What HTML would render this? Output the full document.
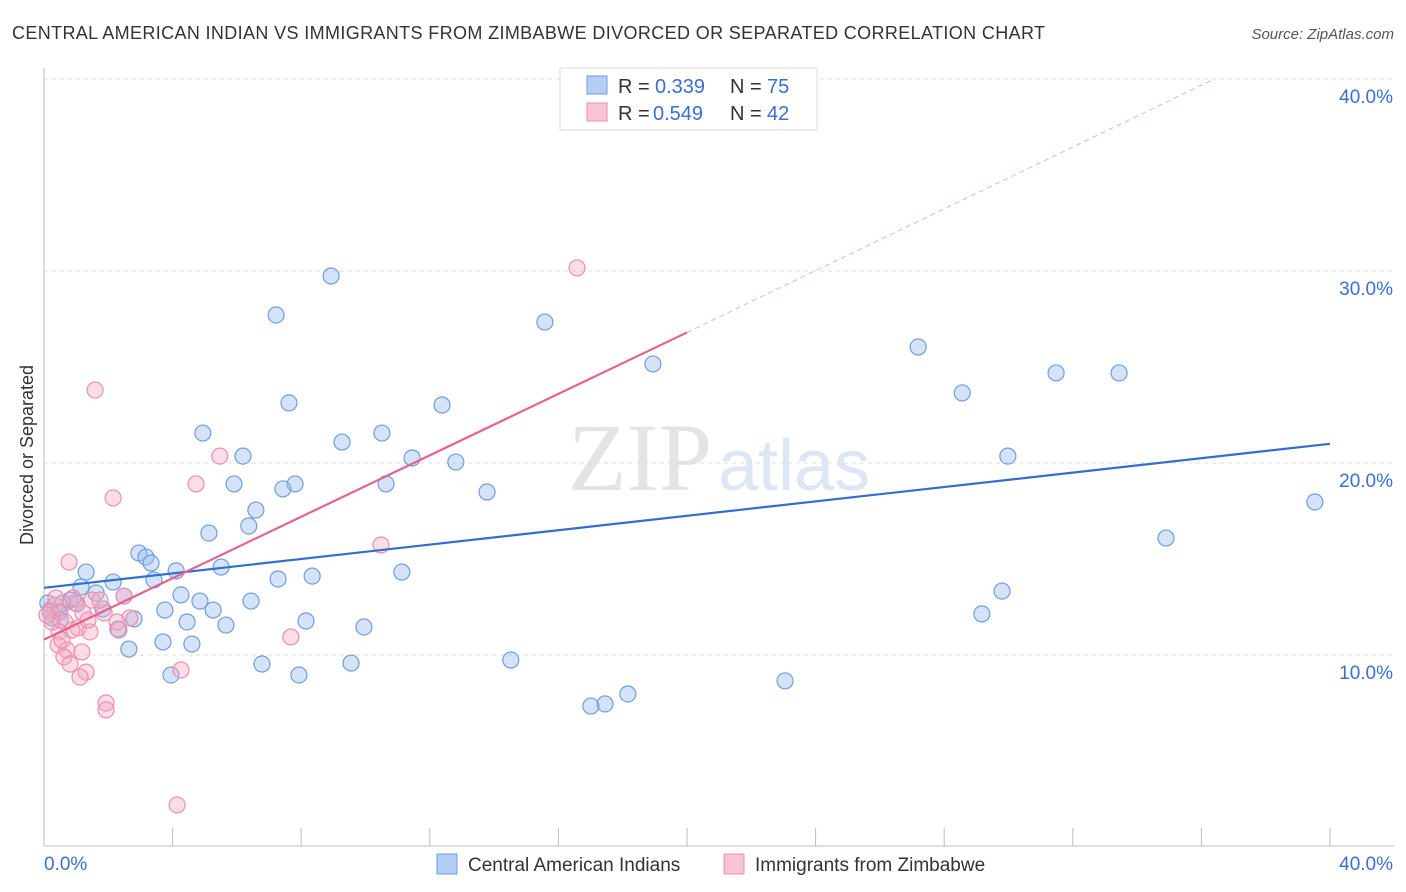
<!DOCTYPE html>
<html><head><meta charset="utf-8"><style>
body{margin:0;background:#fff;font-family:"Liberation Sans",sans-serif}
svg{display:block}
</style></head><body>
<svg width="1406" height="892">
<text x="12" y="39" font-size="18" textLength="1033" fill="#333">CENTRAL AMERICAN INDIAN VS IMMIGRANTS FROM ZIMBABWE DIVORCED OR SEPARATED CORRELATION CHART</text>
<text x="1394" y="39" font-size="15" fill="#555" text-anchor="end" font-style="italic">Source: ZipAtlas.com</text>
<text x="712" y="490" font-size="96" fill="#e4e4e4" font-family="Liberation Serif,serif" text-anchor="end">ZIP</text>
<text x="718" y="490" font-size="72" fill="#dce6f5">atlas</text>
<g id="grid"></g><g id="axes"></g><g id="pts"></g><g id="lines"></g>
<text x="33" y="455" font-size="18" fill="#333" text-anchor="middle" transform="rotate(-90 33 455)">Divorced or Separated</text>
<g>
<rect x="560" y="68" width="257" height="62" fill="#fff" stroke="#ddd"/>
<rect x="587" y="76" width="20" height="18" fill="#b3cdf4" stroke="#6f9de0"/>
<rect x="587" y="103" width="20" height="18" fill="#f9c5d3" stroke="#ec8fab"/>
<text x="618" y="93" font-size="20" fill="#333">R =</text><text x="655" y="93" font-size="20" fill="#3a6fd0">0.339</text>
<text x="730" y="93" font-size="20" fill="#333">N =</text><text x="767" y="93" font-size="20" fill="#3a6fd0">75</text>
<text x="618" y="120" font-size="20" fill="#333">R =</text><text x="653" y="120" font-size="20" fill="#3a6fd0">0.549</text>
<text x="730" y="120" font-size="20" fill="#333">N =</text><text x="767" y="120" font-size="20" fill="#3a6fd0">42</text>
</g>
<g>
<rect x="437" y="854" width="20" height="20" fill="#b3cdf4" stroke="#6f9de0"/>
<text x="468" y="871" font-size="19" fill="#333">Central American Indians</text>
<rect x="724" y="854" width="20" height="20" fill="#f9c5d3" stroke="#ec8fab"/>
<text x="755" y="871" font-size="19" fill="#333">Immigrants from Zimbabwe</text>
</g>
</svg>
<script>
const yTicks=[10,20,30,40];
const xTickLabels=["0.0%","40.0%"];
const blueX=[8.93,7.22,15.58,27.19,18.94,28.56,31.48,33.44,7.62,12.38,4.94,9.27,10.51,6.19,11.45,12.81,29.98,5.91,7.81,7.43,10.64,13.78,6.59,6.37,5.13,39.53,34.9,2.95,3.17,3.33,3.42,4.11,5.51,1.31,2.15,1.15,7.28,8.34,11.13,29.8,1.62,2.49,4.26,4.85,6.44,0.81,0.59,1.03,1.83,3.76,5.26,0.44,0.25,2.8,4.45,5.66,8.15,29.17,9.95,2.3,3.7,4.6,2.64,6.78,9.55,14.52,3.95,7.93,23.05,18.16,17.45,17.01,0.19,0.5,0.12];
const blueY=[29.74,27.71,27.34,26.04,25.16,23.65,24.69,24.69,23.13,23.02,21.56,21.09,21.56,20.36,20.26,20.05,20.36,18.91,18.91,18.65,18.91,18.49,17.55,16.72,16.35,17.97,16.09,15.31,15.10,14.79,13.91,14.38,14.58,14.32,13.80,13.54,13.96,14.11,14.32,13.33,13.23,13.07,13.13,12.81,12.81,12.86,12.71,12.66,12.40,12.34,12.34,12.24,11.93,11.88,11.72,11.56,11.77,12.14,11.46,11.35,10.68,10.57,10.31,9.53,9.58,9.74,8.96,8.96,8.65,7.97,7.45,7.34,12.34,11.82,12.71];
const pinkX=[16.58,1.59,5.47,2.15,4.73,10.48,0.78,2.49,1.49,0.96,0.34,0.19,0.5,0.65,1.06,1.43,2.33,1.21,1.87,2.67,2.27,0.87,0.47,0.44,0.71,0.62,1.18,0.81,1.31,1.12,1.93,1.93,4.26,7.68,4.14,0.25,0.09,0.37,1.74,0.9,0.56,1.37];
const pinkY=[30.16,23.8,20.36,18.18,18.91,15.73,14.84,13.07,12.86,12.71,12.6,12.24,12.24,11.72,11.41,11.2,11.3,12.19,12.19,11.93,11.72,11.3,11.2,10.52,10.26,9.9,10.16,9.53,9.11,8.85,7.5,7.14,9.22,10.94,2.19,11.72,12.08,12.97,12.86,12.97,10.78,11.82];
const blueLine=[[0,13.5],[40,21.0]];
const pinkLine=[[0,10.8],[20,26.8]];
const pinkDash=[[20,26.8],[36.4,40.0]];
const X=v=>44+v*32.15, Y=v=>847-v*19.2;
const NS="http://www.w3.org/2000/svg";
function mk(tag,at,parent){const e=document.createElementNS(NS,tag);for(const k in at)e.setAttribute(k,at[k]);document.getElementById(parent).appendChild(e);return e;}
yTicks.forEach(t=>{
 const g=mk('line',{x1:44,x2:1394,y1:Y(t),y2:Y(t),stroke:'#ddd','stroke-dasharray':'4,4'},'grid');
 
 
 const l=mk('text',{x:1393,y:Y(t)+24,'font-size':19,fill:'#3a6fd0','text-anchor':'end'},'axes');
 l.textContent=t.toFixed(1)+'%';
 
 
});
let a=mk('line',{x1:44,x2:44,y1:68,y2:846,stroke:'#bbb'},'axes');


a=mk('line',{x1:44,x2:1394,y1:846,y2:846,stroke:'#bbb'},'axes');


for(let i=0;i<=10;i++){const t=mk('line',{x1:X(i*4),x2:X(i*4),y1:828,y2:846,stroke:'#bbb'},'axes');
 
 }
[[0,'start',X(0)],[1,'end',1393]].forEach(([i,an,x])=>{const l=mk('text',{x:x,y:870,'font-size':19,fill:'#3a6fd0','text-anchor':an},'axes');l.textContent=xTickLabels[i];
 
 });
blueX.forEach((v,i)=>{const c=mk('circle',{cx:X(v),cy:Y(blueY[i]),r:8,fill:'rgba(150,185,240,0.4)',stroke:'#6f9de0','stroke-width':1.2},'pts');
 
 });
pinkX.forEach((v,i)=>{const c=mk('circle',{cx:X(v),cy:Y(pinkY[i]),r:8,fill:'rgba(245,170,195,0.4)',stroke:'#ec8fab','stroke-width':1.2},'pts');
 
 });
let ln=mk('line',{x1:X(blueLine[0][0]),y1:Y(blueLine[0][1]),x2:X(blueLine[1][0]),y2:Y(blueLine[1][1]),stroke:'#2f6fd0','stroke-width':2.2},'lines');


ln=mk('line',{x1:X(pinkLine[0][0]),y1:Y(pinkLine[0][1]),x2:X(pinkLine[1][0]),y2:Y(pinkLine[1][1]),stroke:'#e4638e','stroke-width':2.2},'lines');


ln=mk('line',{x1:X(pinkDash[0][0]),y1:Y(pinkDash[0][1]),x2:X(pinkDash[1][0]),y2:Y(pinkDash[1][1]),stroke:'#eab0c2','stroke-width':1,'stroke-dasharray':'5,4'},'lines');


</script>
</body></html>
